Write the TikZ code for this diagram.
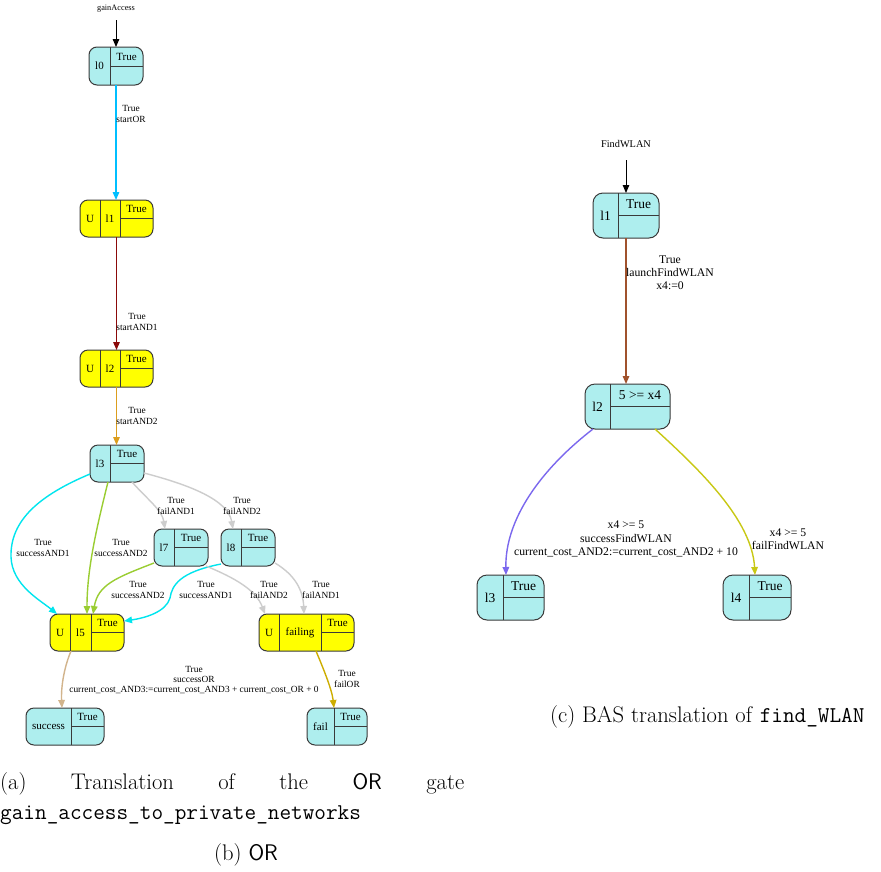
\documentclass[tikz,border=0pt]{standalone}
\usepackage{fontspec}
\newfontfamily\gv{Liberation Serif}
\usetikzlibrary{arrows.meta,calc}
\definecolor{nodecyan}{HTML}{AEEEEE}
\definecolor{nodeyel}{HTML}{FFFF00}
\definecolor{bordc}{HTML}{3A3A3A}
\definecolor{cSky}{HTML}{00BFFF}
\definecolor{cDarkRed}{HTML}{8B0A0A}
\definecolor{cOrange}{HTML}{DC9E1E}
\definecolor{cCyan}{HTML}{00E5EE}
\definecolor{cGreen}{HTML}{9ACD32}
\definecolor{cGray}{HTML}{CDCDCD}
\definecolor{cTan}{HTML}{D2B48C}
\definecolor{cGold}{HTML}{CDAD00}
\definecolor{cBrown}{HTML}{A0522D}
\definecolor{cPurple}{HTML}{7B68EE}
\definecolor{cYel}{HTML}{C8C814}
\tikzset{
  sbox/.style={draw=bordc, line width=1pt, rounded corners=8pt, inner sep=0pt, outer sep=0pt},
  divl/.style={draw=bordc, line width=1pt},
  ltxt/.style={font=\gv\fontsize{11}{13}\selectfont, inner sep=0pt},
  rtxt/.style={font=\gv\fontsize{13.5}{16}\selectfont, inner sep=0pt},
  elab/.style={font=\gv\fontsize{9.4}{10.4}\selectfont, align=center, inner sep=0pt},
  rlab/.style={font=\gv\fontsize{11.7}{13.2}\selectfont, align=center, inner sep=0pt},
  conn/.style={line width=1.4pt, -{Triangle[length=8pt,width=6.5pt]}},
  inarr/.style={line width=1pt, -{Triangle[length=8pt,width=6.5pt]}},
  capt/.style={font=\fontsize{22.6}{30}\selectfont, inner sep=0pt}
}
% #1 name #2 x #3 y #4 w #5 h #6 extra style #7 divider offset #8 text style #9 guard
\newcommand\gbox[9]{%
  \node[sbox,#6,minimum width=#4pt,minimum height=#5pt,anchor=north west] (#1) at (#2,#3) {};
  \draw[divl] ([xshift=#7pt]#1.north west) -- ([xshift=#7pt]#1.south west);
  \draw[divl] ([xshift=#7pt]#1.west) -- (#1.east);
  \node[#8] (#1-g) at ($(#1.north west)+({(#7+#4)/2},{#5/4})$) {#9};
}
\begin{document}
\begin{tikzpicture}[x=1pt,y=-1pt]
\useasboundingbox[fill=white] (0,0) rectangle (881,871);

% ---------------- left graph ----------------
\node[font=\gv\fontsize{8.3}{10}\selectfont, inner sep=0pt] (ga) at (116,9) {gainAccess};

\gbox{l0}{89}{47}{54}{38}{fill=nodecyan}{21}{ltxt}{True}
\node[ltxt] (l0-n) at ([xshift=10.5pt]l0.west) {l0};

\gbox{l1}{80}{200}{73}{37}{fill=nodeyel}{40}{ltxt}{True}
\draw[divl] ([xshift=20pt]l1.north west) -- ([xshift=20pt]l1.south west);
\node[ltxt] (l1-u) at ([xshift=10pt]l1.west) {U};
\node[ltxt] (l1-n) at ([xshift=30pt]l1.west) {l1};

\gbox{l2}{80}{350}{73}{37}{fill=nodeyel}{40}{ltxt}{True}
\draw[divl] ([xshift=20pt]l2.north west) -- ([xshift=20pt]l2.south west);
\node[ltxt] (l2-u) at ([xshift=10pt]l2.west) {U};
\node[ltxt] (l2-n) at ([xshift=30pt]l2.west) {l2};

\gbox{l3}{90}{445}{54}{37}{fill=nodecyan}{20}{ltxt}{True}
\node[ltxt] (l3-n) at ([xshift=10pt]l3.west) {l3};

\gbox{l7}{154}{529}{54}{37}{fill=nodecyan}{20}{ltxt}{True}
\node[ltxt] (l7-n) at ([xshift=10pt]l7.west) {l7};

\gbox{l8}{221}{529}{54}{37}{fill=nodecyan}{20}{ltxt}{True}
\node[ltxt] (l8-n) at ([xshift=10pt]l8.west) {l8};

\gbox{l5}{50}{614}{74}{37}{fill=nodeyel}{41}{ltxt}{True}
\draw[divl] ([xshift=20pt]l5.north west) -- ([xshift=20pt]l5.south west);
\node[ltxt] (l5-u) at ([xshift=10pt]l5.west) {U};
\node[ltxt] (l5-n) at ([xshift=30.5pt]l5.west) {l5};

\gbox{failing}{259}{614}{95}{37}{fill=nodeyel}{62}{ltxt}{True}
\draw[divl] ([xshift=20pt]failing.north west) -- ([xshift=20pt]failing.south west);
\node[ltxt] (failing-u) at ([xshift=10pt]failing.west) {U};
\node[ltxt] (failing-n) at ([xshift=41pt]failing.west) {failing};

\gbox{success}{26}{708}{78}{37}{fill=nodecyan}{45}{ltxt}{True}
\node[ltxt] (success-n) at ([xshift=22.5pt]success.west) {success};

\gbox{fail}{307}{708}{60}{37}{fill=nodecyan}{27}{ltxt}{True}
\node[ltxt] (fail-n) at ([xshift=13.5pt]fail.west) {fail};

% edges
\draw[inarr, black] ([yshift=-11pt]ga.center) -- (ga.center |- l0.north);
\draw[conn, cSky] (l0.south) -- (l0.south |- l1.north);
\draw[conn, cDarkRed] (l1.south) -- (l1.south |- l2.north);
\draw[conn, cOrange] (l2.south) -- (l2.south |- l3.north);

\draw[conn, cCyan] ([shift={(0,-8)}]l3.south west) .. controls (40,495) and (10,520) .. (11,557)
   .. controls (12,585) and (40,600) .. ([shift={(7,0)}]l5.north west);
\draw[conn, cGreen] ([shift={(18,0)}]l3.south west) .. controls (96,530) and (87,570) .. ([shift={(37,0)}]l5.north west);
\draw[conn, cGreen] ([shift={(0,-3)}]l7.south west) .. controls (115,578) and (98,585) .. ([shift={(43,0)}]l5.north west);
\draw[conn, cCyan] ([shift={(0,-2)}]l8.south west) .. controls (180,572) and (172,585) .. (170,598)
   .. controls (166,612) and (145,618) .. ([shift={(0,7)}]l5.north east);
\draw[conn, cGray] ([shift={(-12,0)}]l3.south east) .. controls (148,500) and (162,510) .. ([shift={(11,0)}]l7.north west);
\draw[conn, cGray] ([shift={(0,28)}]l3.north east) .. controls (190,485) and (228,500) .. ([shift={(12,0)}]l8.north west);
\draw[conn, cGray] ([shift={(-2,0)}]l7.south east) .. controls (235,578) and (256,590) .. ([shift={(6,0)}]failing.north west);
\draw[conn, cGray] ([shift={(0,-3)}]l8.south east) .. controls (295,575) and (303,590) .. ([shift={(45,0)}]failing.north west);
\draw[conn, cTan] ([shift={(21,0)}]l5.south west) .. controls (63,670) and (61,690) .. ([shift={(36,0)}]success.north west);
\draw[conn, cGold] ([shift={(57,0)}]failing.south west) .. controls (324,670) and (332,690) .. ([shift={(27,0)}]fail.north west);

% edge labels
\node[elab] (e01) at (131,114) {True\\startOR};
\node[elab] (e12) at (137,322) {True\\startAND1};
\node[elab] (e23) at (137,416) {True\\startAND2};
\node[elab] (e35a) at (43,548) {True\\successAND1};
\node[elab] (e35b) at (121,548) {True\\successAND2};
\node[elab] (e37) at (176,506) {True\\failAND1};
\node[elab] (e38) at (242,506) {True\\failAND2};
\node[elab] (e75) at (138,590) {True\\successAND2};
\node[elab] (e85) at (206,590) {True\\successAND1};
\node[elab] (e7f) at (269,590) {True\\failAND2};
\node[elab] (e8f) at (321,590) {True\\failAND1};
\node[elab] (e5s) at (194,680) {True\\successOR\\current\_cost\_AND3:=current\_cost\_AND3 + current\_cost\_OR + 0};
\node[elab] (eff) at (347,679) {True\\failOR};

% ---------------- right graph ----------------
\node[font=\gv\fontsize{10.3}{12}\selectfont, inner sep=0pt] (fw) at (626,144) {FindWLAN};

\gbox{r1}{593}{193}{66}{45}{fill=nodecyan,rounded corners=10pt}{25}{rtxt}{True}
\node[rtxt] (r1-n) at ([xshift=12.5pt]r1.west) {l1};
\gbox{r2}{585}{384}{85}{45}{fill=nodecyan,rounded corners=10pt}{25}{rtxt}{5 >= x4}
\node[rtxt] (r2-n) at ([xshift=12.5pt]r2.west) {l2};
\gbox{r3}{477}{575}{67}{45}{fill=nodecyan,rounded corners=10pt}{26}{rtxt}{True}
\node[rtxt] (r3-n) at ([xshift=13pt]r3.west) {l3};
\gbox{r4}{723}{575}{68}{45}{fill=nodecyan,rounded corners=10pt}{26}{rtxt}{True}
\node[rtxt] (r4-n) at ([xshift=13pt]r4.west) {l4};

\draw[inarr, black] ([yshift=-16pt]fw.center) -- (fw.center |- r1.north);
\draw[conn, cBrown] (r1.south) -- (r1.south |- r2.north);
\draw[conn, cPurple] ([shift={(8,0)}]r2.south west) .. controls (540,470) and (505,520) .. ([shift={(29,0)}]r3.north west);
\draw[conn, cYel] ([shift={(-15,0)}]r2.south east) .. controls (700,470) and (752,520) .. ([shift={(32,0)}]r4.north west);

\node[rlab] (r12) at (670,273) {True\\launchFindWLAN\\x4:=0};
\node[rlab] (r23) at (626,539) {x4 >= 5\\successFindWLAN\\current\_cost\_AND2:=current\_cost\_AND2 + 10};
\node[rlab] (r24) at (788,539) {x4 >= 5\\failFindWLAN};

% ---------------- captions ----------------
\node[capt, anchor=north west, text width=464pt, align=justify] (capa) at (0,772)
  {\noindent(a) Translation of the \textsf{OR} gate\linebreak\texttt{gain\_access\_to\_private\_networks}};
\node[capt, anchor=base] (capb) at (246,860) {(b) \textsf{OR}};
\node[capt, anchor=base west] (capc) at (550,722) {(c) BAS translation of \texttt{find\_WLAN}};
\end{tikzpicture}
\end{document}
